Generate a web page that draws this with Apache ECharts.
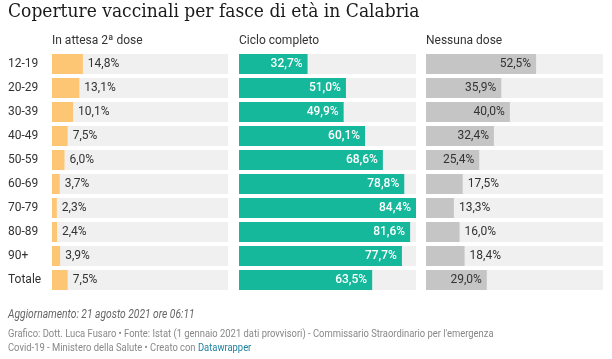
<!DOCTYPE html>
<html><head><meta charset="utf-8">
<script src="https://cdn.jsdelivr.net/npm/echarts@6/dist/echarts.min.js"></script>
<style>html,body{margin:0;padding:0;background:#fff}#c{width:612px;height:359px}</style>
</head><body><div id="c"></div>
<script>
const categories = ['12-19','20-29','30-39','40-49','50-59','60-69','70-79','80-89','90+','Totale'];
const inAttesa = [14.8,13.1,10.1,7.5,6.0,3.7,2.3,2.4,3.9,7.5];
const cicloCompleto = [32.7,51.0,49.9,60.1,68.6,78.8,84.4,81.6,77.7,63.5];
const nessunaDose = [52.5,35.9,40.0,32.4,25.4,17.5,13.3,16.0,18.4,29.0];
const columnTitles = ['In attesa 2ª dose','Ciclo completo','Nessuna dose'];

const SCALE_MAX = 84.4;
const fmt = v => v.toFixed(1).replace('.', ',') + '%';
const sans = 'Roboto';
const chart = echarts.init(document.getElementById('c'));

const grids = [
  {left: 52, width: 176, top: 52, height: 240},
  {left: 239, width: 177, top: 52, height: 240},
  {left: 426, width: 177, top: 52, height: 240}
];
const xAxes = grids.map((g, i) => ({gridIndex: i, type: 'value', min: 0, max: SCALE_MAX, show: false}));
const yAxes = grids.map((g, i) => ({
  gridIndex: i, type: 'category', data: categories, inverse: true,
  axisLine: {show: false}, axisTick: {show: false}, splitLine: {show: false},
  axisLabel: i === 0 ? {show: true, align: 'left', margin: 44, color: '#333', fontFamily: sans, fontSize: 12} : {show: false}
}));

const baseBar = {
  type: 'bar', barWidth: 20, showBackground: true,
  backgroundStyle: {color: '#f0f0f0'}, animation: false
};
const series = [
  Object.assign({}, baseBar, {
    xAxisIndex: 0, yAxisIndex: 0, data: inAttesa,
    itemStyle: {color: '#fdc674'},
    label: {show: true, position: 'right', distance: 5, color: '#333', fontFamily: sans, fontSize: 12, formatter: p => fmt(p.value)}
  }),
  Object.assign({}, baseBar, {
    xAxisIndex: 1, yAxisIndex: 1, data: cicloCompleto,
    itemStyle: {color: '#15b89a'},
    label: {show: true, position: 'insideRight', distance: 5, color: '#fff', fontWeight: 500, fontFamily: sans, fontSize: 12, formatter: p => fmt(p.value)}
  }),
  Object.assign({}, baseBar, {
    xAxisIndex: 2, yAxisIndex: 2,
    data: nessunaDose.map(v => ({
      value: v,
      label: v >= 25 ? {position: 'insideRight', color: '#333'} : {position: 'right', color: '#333'}
    })),
    itemStyle: {color: '#c5c5c5'},
    label: {show: true, distance: 5, color: '#333', fontFamily: sans, fontSize: 12, formatter: p => fmt(p.value)}
  })
];

const graphic = [
  {type: 'text', x: 8, y: 3, scaleX: 0.9, style: {text: 'Coperture vaccinali per fasce di età in Calabria', font: '19px "DejaVu Serif"', fill: '#1a1a1a'}},
  {type: 'text', left: 52, top: 35, style: {text: columnTitles[0], font: '12px Roboto', fill: '#333'}},
  {type: 'text', left: 239, top: 35, style: {text: columnTitles[1], font: '12px Roboto', fill: '#333'}},
  {type: 'text', left: 426, top: 35, style: {text: columnTitles[2], font: '12px Roboto', fill: '#333'}},
  {type: 'text', x: 8, y: 309, scaleX: 0.855, style: {text: 'Aggiornamento: 21 agosto 2021 ore 06:11', font: 'italic 12px Roboto', fill: '#666'}},
  {type: 'text', x: 8, y: 329, scaleX: 0.855, style: {text: 'Grafico: Dott. Luca Fusaro • Fonte: Istat (1 gennaio 2021 dati provvisori) - Commissario Straordinario per l\'emergenza', font: '11px Roboto', fill: '#888'}},
  {type: 'text', x: 8, y: 343, scaleX: 0.855, style: {
    text: 'Covid-19 - Ministero della Salute • Creato con {a|Datawrapper}', font: '11px Roboto', fill: '#888',
    rich: {a: {fill: '#1d81a2', font: '11px Roboto'}}
  }}
];

chart.setOption({
  backgroundColor: '#fff',
  animation: false,
  grid: grids, xAxis: xAxes, yAxis: yAxes, series: series, graphic: graphic
});
</script></body></html>
